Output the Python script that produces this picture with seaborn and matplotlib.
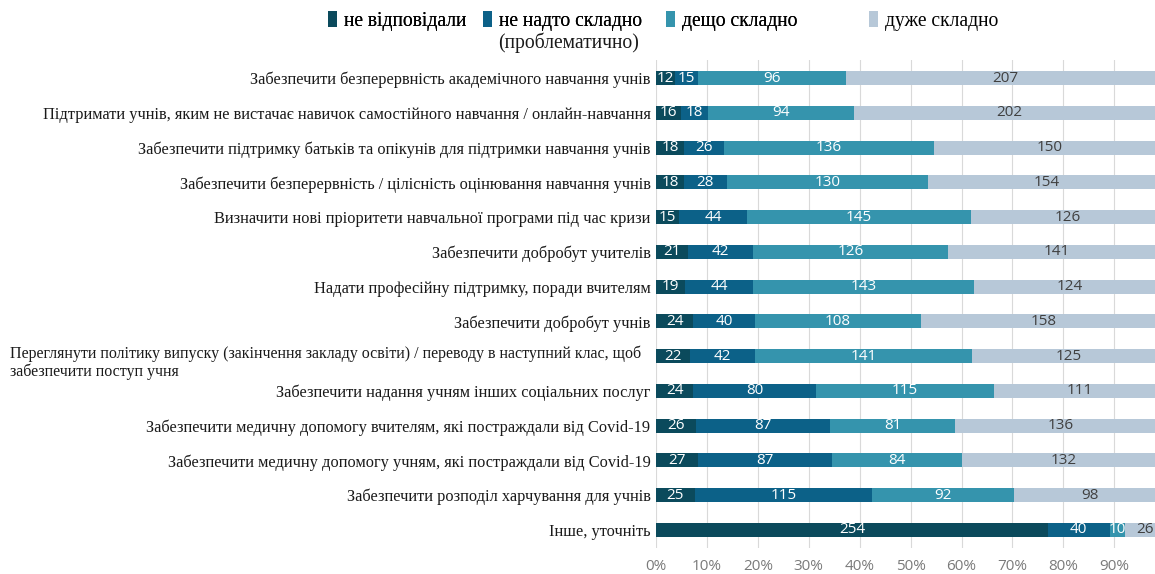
import numpy as np
import pandas as pd
import matplotlib
matplotlib.use("Agg")
import matplotlib.pyplot as plt
import seaborn as sns
from matplotlib.patches import Patch
import matplotlib.transforms as mtransforms

categories = [
    "Забезпечити безперервність академічного навчання учнів",
    "Підтримати учнів, яким не вистачає навичок самостійного навчання / онлайн-навчання",
    "Забезпечити підтримку батьків та опікунів для підтримки навчання учнів",
    "Забезпечити безперервність / цілісність оцінювання навчання учнів",
    "Визначити нові пріоритети навчальної програми під час кризи",
    "Забезпечити добробут учителів",
    "Надати професійну підтримку, поради вчителям",
    "Забезпечити добробут учнів",
    "Переглянути політику випуску (закінчення закладу освіти) / переводу в наступний клас, щоб\nзабезпечити поступ учня",
    "Забезпечити надання учням інших соціальних послуг",
    "Забезпечити медичну допомогу вчителям, які постраждали від Covid-19",
    "Забезпечити медичну допомогу учням, які постраждали від Covid-19",
    "Забезпечити розподіл харчування для учнів",
    "Інше, уточніть",
]
series_names = ["не відповідали", "не надто складно", "дещо складно", "дуже складно"]
series_name_2_second_line = "(проблематично)"
no_answer = [12, 16, 18, 18, 15, 21, 19, 24, 22, 24, 26, 27, 25, 254]
not_too_hard = [15, 18, 26, 28, 44, 42, 44, 40, 42, 80, 87, 87, 115, 40]
somewhat_hard = [96, 94, 136, 130, 145, 126, 143, 108, 141, 115, 81, 84, 92, 10]
very_hard = [207, 202, 150, 154, 126, 141, 124, 158, 125, 111, 136, 132, 98, 26]
x_ticks = [0.0, 0.1, 0.2, 0.3, 0.4, 0.5, 0.6, 0.7, 0.8, 0.9]
x_tick_labels = ["0%", "10%", "20%", "30%", "40%", "50%", "60%", "70%", "80%", "90%"]

colors = ["#0b4a5c", "#0c6188", "#3594ad", "#b7c8d8"]
text_colors = ["white", "white", "white", "#404040"]

vals = np.array([no_answer, not_too_hard, somewhat_hard, very_hard], dtype=float)
totals = vals.sum(axis=0)
shares = vals / totals
cum = np.cumsum(shares, axis=0)

ids = [f"c{i}" for i in range(len(categories))]

W, H = 1155, 574
fig = plt.figure(figsize=(W / 100, H / 100), dpi=100)
ax = fig.add_axes([656 / W, 1 - 548 / H, 1 - 656 / W, (548 - 60) / H])

# draw layers from the outermost cumulative to the innermost
for k in range(3, -1, -1):
    df = pd.DataFrame({"cat": ids, "v": cum[k]})
    sns.barplot(data=df, y="cat", x="v", order=ids, orient="h", color=colors[k],
                saturation=1, width=0.4, ax=ax, zorder=2, edgecolor="none", linewidth=0)

ax.set_xlim(0, 0.98)
ax.set_ylim(13.52, -0.52)
ax.set_xticks(x_ticks)
ax.set_xticklabels(x_tick_labels, fontsize=11, color="#7a7a7a", family="Open Sans")
ax.tick_params(axis="x", length=0, pad=8)
ax.tick_params(axis="y", length=0, pad=4)
ax.grid(axis="x", color="#d9d9d9", linewidth=0.8, zorder=0)
ax.grid(axis="y", visible=False)
ax.set_axisbelow(True)
for s in ax.spines.values():
    s.set_visible(False)
ax.set_xlabel("")
ax.set_ylabel("")

label_fs = 11.75
wrap_idx = 8
ylabels = [("" if i == wrap_idx else c) for i, c in enumerate(categories)]
ax.set_yticks(range(len(categories)))
ax.set_yticklabels(ylabels, fontsize=label_fs, family="Liberation Serif", color="#1a1a1a")

# the wrapped label starts at the left edge of the figure, first line level with its bar
trans = mtransforms.blended_transform_factory(fig.transFigure, ax.transData)
ax.annotate(categories[wrap_idx], xy=(10 / W, wrap_idx), xycoords=trans, xytext=(0, 7.5),
            textcoords="offset points", ha="left", va="top", multialignment="left",
            fontsize=11.5, family="Liberation Serif", color="#1a1a1a", linespacing=1.1)

# segment value labels
for k in range(4):
    for i in range(len(categories)):
        start = cum[k][i] - shares[k][i]
        center = start + shares[k][i] / 2
        ax.text(center, i, f"{int(vals[k][i])}", ha="center", va="center",
                fontsize=11, family="Open Sans", color=text_colors[k], zorder=5)

# legend: one entry per legend, placed like the reference
leg_x = [328, 483, 666, 869]
leg_y = 21
leg_fs = 14.1
legends = []
for k in range(4):
    lg = fig.legend([Patch(facecolor=colors[k], edgecolor="none")], [series_names[k]],
                    loc="center left", bbox_to_anchor=(leg_x[k] / W, 1 - leg_y / H),
                    frameon=False, prop={"family": "Liberation Serif", "size": leg_fs},
                    handlelength=0.45, handleheight=0.9, handletextpad=0.35,
                    borderpad=0, borderaxespad=0)
    legends.append(lg)
for lg in legends[:-1]:
    fig.add_artist(lg)
fig.text(498 / W, 1 - 43 / H, series_name_2_second_line, ha="left", va="center",
         family="Liberation Serif", fontsize=leg_fs, color="#1a1a1a")

fig.savefig("out.png", dpi=100)
